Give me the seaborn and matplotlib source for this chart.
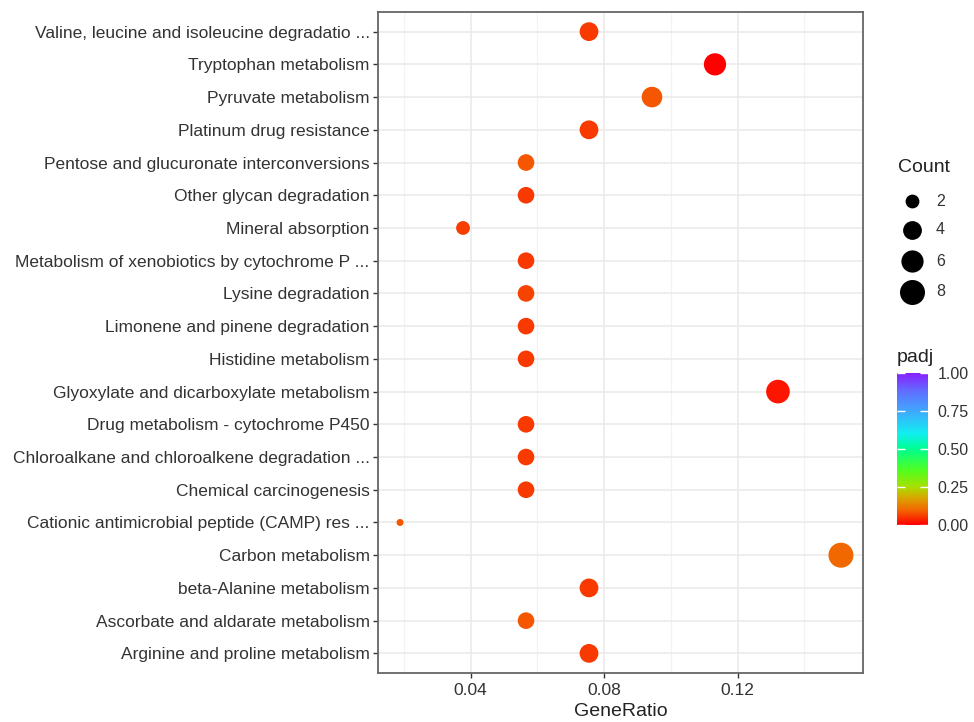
import numpy as np
import pandas as pd
import matplotlib
matplotlib.use("Agg")
import matplotlib.pyplot as plt
from matplotlib.colors import LinearSegmentedColormap, Normalize
from matplotlib.ticker import FixedLocator
import seaborn as sns

# KEGG enrichment results (top to bottom)
pathways = [
    "Valine, leucine and isoleucine degradatio ...",
    "Tryptophan metabolism",
    "Pyruvate metabolism",
    "Platinum drug resistance",
    "Pentose and glucuronate interconversions",
    "Other glycan degradation",
    "Mineral absorption",
    "Metabolism of xenobiotics by cytochrome P ...",
    "Lysine degradation",
    "Limonene and pinene degradation",
    "Histidine metabolism",
    "Glyoxylate and dicarboxylate metabolism",
    "Drug metabolism - cytochrome P450",
    "Chloroalkane and chloroalkene degradation ...",
    "Chemical carcinogenesis",
    "Cationic antimicrobial peptide (CAMP) res ...",
    "Carbon metabolism",
    "beta-Alanine metabolism",
    "Ascorbate and aldarate metabolism",
    "Arginine and proline metabolism",
]
counts = [4, 6, 5, 4, 3, 3, 2, 3, 3, 3, 3, 7, 3, 3, 3, 1, 8, 4, 3, 4]
total_genes = 53
padj = [0.055, 0.003, 0.085, 0.055, 0.085, 0.055, 0.06, 0.055, 0.065, 0.055,
        0.055, 0.02, 0.055, 0.055, 0.055, 0.085, 0.1, 0.055, 0.085, 0.055]

count_breaks = [2, 4, 6, 8]
padj_breaks = [0.0, 0.25, 0.5, 0.75, 1.0]
padj_labels = ["0.00", "0.25", "0.50", "0.75", "1.00"]
x_breaks = [0.04, 0.08, 0.12]
x_labels = ["0.04", "0.08", "0.12"]

df = pd.DataFrame({
    "Description": pathways,
    "Count": counts,
    "GeneRatio": [c / total_genes for c in counts],
    "padj": padj,
})

# rainbow-style gradient for padj
cmap = LinearSegmentedColormap.from_list("padj_rainbow", [
    (0.00, "#FF0000"),
    (0.10, "#F26A00"),
    (0.18, "#D8A800"),
    (0.25, "#A8E000"),
    (0.36, "#50FF20"),
    (0.50, "#00FF90"),
    (0.60, "#10F0F0"),
    (0.75, "#40A8FF"),
    (0.88, "#6070FF"),
    (1.00, "#8A20FF"),
])
norm = Normalize(0, 1)

# area-proportional point sizes (sqrt scaling between min and max count)
cmin, cmax = min(counts), max(counts)
def diam_pt(c):
    size = 1 + 5 * np.sqrt((c - cmin) / (cmax - cmin))
    return (3.4 + 3.6 * size) * 0.72

size_map = {c: diam_pt(c) ** 2 for c in sorted(set(counts) | set(count_breaks))}

plt.rcParams["font.family"] = ["Liberation Sans", "DejaVu Sans"]

W, H = 974, 722
fig = plt.figure(figsize=(W / 100, H / 100), dpi=100)
ax = fig.add_axes([378 / W, 1 - 673 / H, (863 - 378) / W, (673 - 12) / H])

sns.scatterplot(
    data=df, x="GeneRatio", y="Description",
    size="Count", sizes=size_map,
    hue="padj", palette=cmap, hue_norm=norm,
    linewidth=0, legend=False, ax=ax, zorder=3,
)

# axis ranges with 5% expansion / 0.6 category padding
xr = df["GeneRatio"].max() - df["GeneRatio"].min()
ax.set_xlim(df["GeneRatio"].min() - 0.05 * xr, df["GeneRatio"].max() + 0.05 * xr)
ax.set_ylim(len(pathways) - 1 + 0.6, -0.6)

ax.set_xticks(x_breaks)
ax.set_xticklabels(x_labels)
ax.xaxis.set_minor_locator(FixedLocator([0.02, 0.06, 0.10, 0.14]))
ax.grid(True, which="major", color="#EBEBEB", linewidth=1.2, zorder=0)
ax.grid(True, which="minor", axis="x", color="#F3F3F3", linewidth=0.9, zorder=0)
ax.set_axisbelow(True)
ax.set_facecolor("white")
for sp in ax.spines.values():
    sp.set_color("#666666")
    sp.set_linewidth(1.3)

ax.tick_params(axis="both", which="major", length=3.5, width=1, color="#333333",
               labelcolor="#333333", labelsize=12.5, pad=2.5)
ax.tick_params(axis="x", which="major", pad=4)
ax.tick_params(axis="x", which="minor", length=0)
ax.set_xlabel("GeneRatio", fontsize=14, color="#222222", labelpad=3)
ax.set_ylabel("")

# Count legend
lax = fig.add_axes([880 / W, 1 - 310 / H, 94 / W, 160 / H])
lax.set_xlim(880, 974)
lax.set_ylim(310, 150)
lax.axis("off")
lax.text(898, 168, "Count", fontsize=14, color="#222222", va="center", ha="left")
for c, yy in zip(count_breaks, [201, 230, 261, 292]):
    lax.scatter([912], [yy], s=size_map[c], color="black", linewidth=0)
    lax.text(936, yy, str(c), fontsize=11.5, color="#333333", va="center", ha="left")

# padj colour bar drawn as a gradient image with inside white ticks
fig.text(897 / W, 1 - 357 / H, "padj", fontsize=14, color="#222222", va="center", ha="left")
cax = fig.add_axes([897 / W, 1 - 525 / H, 31 / W, (525 - 373) / H])
grad = np.linspace(0, 1, 256).reshape(-1, 1)
cax.imshow(grad, aspect="auto", cmap=cmap, norm=norm, origin="lower",
           extent=(0, 1, 0, 1), interpolation="bilinear")
cax.set_xlim(0, 1)
cax.set_ylim(0, 1)
cax.set_xticks([])
for sp in cax.spines.values():
    sp.set_visible(False)
cax.yaxis.tick_right()
cax.set_yticks(padj_breaks)
cax.set_yticklabels(padj_labels)
cax.tick_params(axis="y", direction="in", color="white", length=6, width=1,
                labelsize=11.5, labelcolor="#333333", left=True, right=True, pad=7)

fig.savefig("out.png", dpi=100)
